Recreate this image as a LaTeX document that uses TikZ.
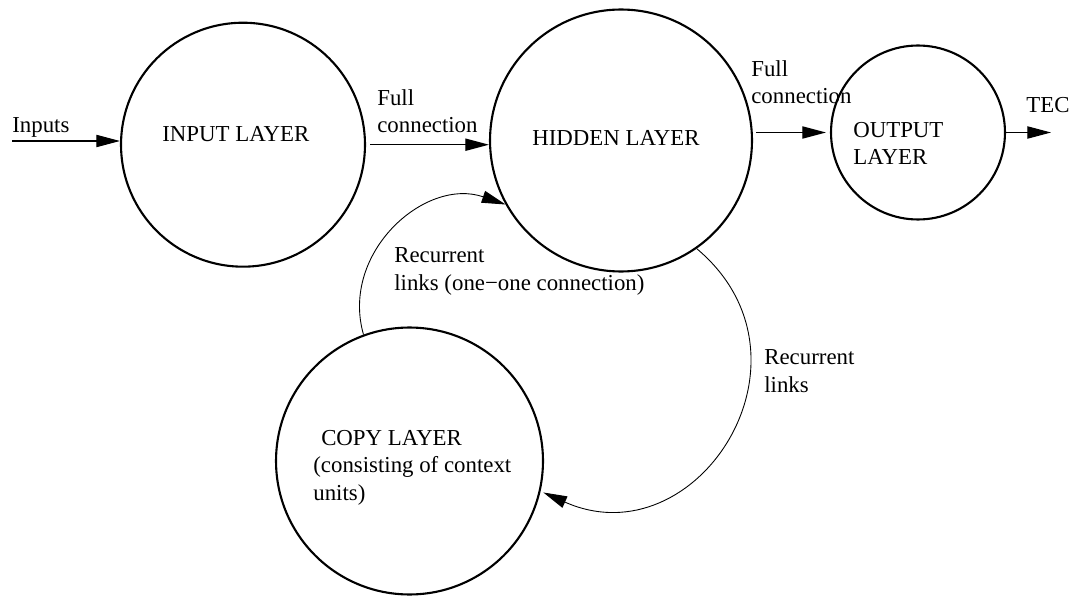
\documentclass[tikz,border=0pt]{standalone}
\usepackage{fontspec}
\setmainfont{Liberation Serif}
\usetikzlibrary{arrows.meta}

\tikzset{
	layer/.style={draw, circle, line width=1.2pt, inner sep=0pt},
	lbl/.style={anchor=base west, inner sep=0pt, align=left, font=\fontsize{13}{15.6}\selectfont},
	link/.style={-{Triangle[length=13.5pt,width=7pt]}, line width=0.65pt},
	rlink/.style={-{Triangle[length=13.5pt,width=7pt]}, line width=0.5pt}
}

\begin{document}
	\begin{tikzpicture}[x=0.02cm, y=0.02cm]
		\useasboundingbox ( 0, 0 ) rectangle ( 1069, 596 );

		% слои сети
		\node [layer, minimum size=4.88cm] (in) at ( 243, 451.3 ) {};
		\node [layer, minimum size=5.24cm] (hid) at ( 621, 455.5 ) {};
		\node [layer, minimum size=3.48cm] (out) at ( 918, 463.5 ) {};
		\node [layer, minimum size=5.34cm] (copy) at ( 409.5, 135 ) {};

		% подписи слоёв (base -- по последней строке)
		\node [lbl] (inname) at ( 162, 454 ) {INPUT LAYER};
		\node [lbl] (hidname) at ( 532, 450 ) {HIDDEN LAYER};
		\node [lbl] (outname) at ( 853, 431 ) {OUTPUT\\LAYER};
		\node [lbl] (copyname) at ( 313, 96 ) {\hspace*{4.5pt}COPY LAYER\\(consisting of context\\units)};

		% входы и выход
		\coordinate (inpt) at ( 12, 455 );
		\coordinate (tec) at ( 1051, 463.5 );
		\node [lbl] (inptname) at ( 12, 463 ) {Inputs};
		\node [lbl] (tecname) at ( 1026, 483 ) {TEC};
		\draw [link] (inpt) -- (inpt -| in.west);
		\draw [link] (out.east) -- (tec);

		% полные связи
		\node [lbl] (full1) at ( 377, 463 ) {Full\\connection};
		\node [lbl] (full2) at ( 751, 492 ) {Full\\connection};
		\draw [link, shorten <=0.08cm] (in.east) -- (in.east -| hid.west);
		\draw [link, shorten <=0.06cm, shorten >=0.08cm] (out.west -| hid.east) -- (out.west);

		% рекуррентные связи
		\node [lbl] (rec1) at ( 394, 306 ) {Recurrent\\links (one−one connection)};
		\node [lbl] (rec2) at ( 764, 204 ) {Recurrent\\links};
		\draw [rlink] (copy.110) to [out=106, in=161, looseness=1.13] (hid.209);
		\draw [rlink, shorten >=0.06cm] (hid.305) to [out=-40, in=-24, looseness=1.52] (copy.-13);
	\end{tikzpicture}
\end{document}
